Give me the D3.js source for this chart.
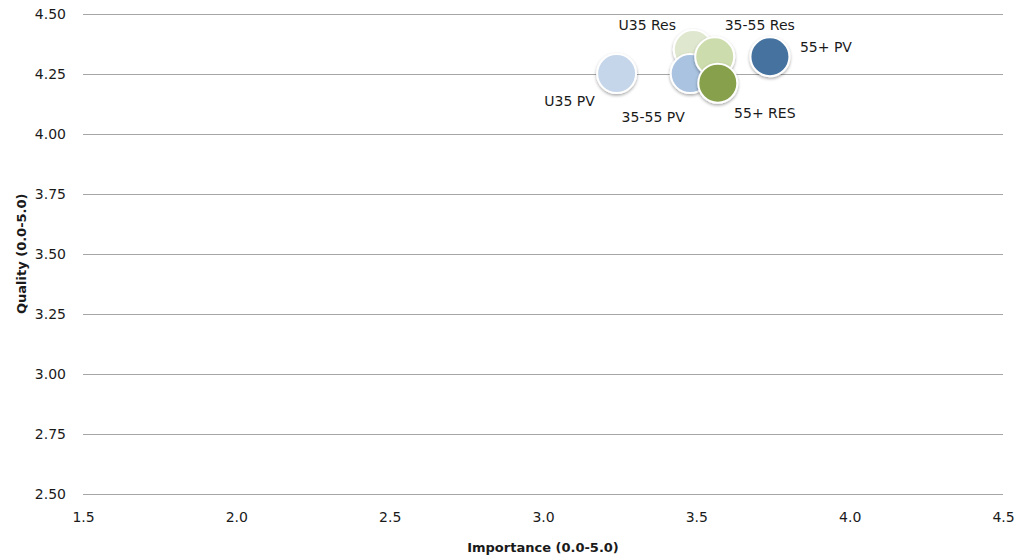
<!DOCTYPE html>
<html>
<head>
<meta charset="utf-8">
<script src="https://cdn.jsdelivr.net/npm/d3@7"></script>
<style>
  html, body { margin: 0; padding: 0; background: #fff; }
  svg { display: block; }
  text { font-family: "DejaVu Sans", sans-serif; fill: #1a1a1a; }
</style>
</head>
<body>
<svg id="chart" width="1019" height="560"></svg>
<script>
// ---- data ----
const labels     = ["U35 PV", "U35 Res", "35-55 PV", "35-55 Res", "55+ PV", "55+ RES"];
const importance = [3.24, 3.49, 3.48, 3.56, 3.74, 3.57];
const quality    = [4.25, 4.35, 4.25, 4.32, 4.32, 4.21];
const colors     = ["#c6d6ea", "#dfe8cf", "#a9c3e0", "#cddcac", "#44729f", "#87a04c"];
const xTicks = [1.5, 2.0, 2.5, 3.0, 3.5, 4.0, 4.5];
const yTicks = [2.50, 2.75, 3.00, 3.25, 3.50, 3.75, 4.00, 4.25, 4.50];
// label offsets (dx, dy) relative to bubble centre
const labelPos = [
  {dx: -47, dy: 28},
  {dx: -46, dy: -24},
  {dx: -37, dy: 44},
  {dx: 45, dy: -32},
  {dx: 56, dy: -10},
  {dx: 47, dy: 30}
];

const svg = d3.select("#chart");
const x = d3.scaleLinear().domain([1.5, 4.5]).range([83, 1003]);
const y = d3.scaleLinear().domain([2.5, 4.5]).range([494, 13.5]);

// shadow filter
const defs = svg.append("defs");
const f = defs.append("filter").attr("id", "shadow")
  .attr("x", "-50%").attr("y", "-50%").attr("width", "200%").attr("height", "200%");
f.append("feDropShadow").attr("dx", 0).attr("dy", 1.5).attr("stdDeviation", 1.6)
  .attr("flood-color", "#000").attr("flood-opacity", 0.35);

// gridlines
svg.append("g").selectAll("line").data(yTicks).join("line")
  .attr("x1", x(1.5)).attr("x2", x(4.5))
  .attr("y1", d => Math.round(y(d)) + 0.5).attr("y2", d => Math.round(y(d)) + 0.5)
  .attr("stroke", "#a6a6a6").attr("stroke-width", 1.2);

// y axis labels
const yAxis = d3.axisLeft(y).tickValues(yTicks).tickFormat(d3.format(".2f")).tickSize(0).tickPadding(17);
const gy = svg.append("g").attr("transform", `translate(${x(1.5)},0)`).call(yAxis);
gy.select(".domain").remove();
gy.selectAll("text").style("font-size", "14px").attr("dy", "0.35em").attr("fill", "#1a1a1a");

// x axis labels
const xAxis = d3.axisBottom(x).tickValues(xTicks).tickFormat(d3.format(".1f")).tickSize(0).tickPadding(18);
const gx = svg.append("g").attr("transform", `translate(0,${y(2.5)})`).call(xAxis);
gx.select(".domain").remove();
gx.selectAll("text").style("font-size", "14px").attr("fill", "#1a1a1a");

// axis titles
svg.append("text").attr("x", 543).attr("y", 552).attr("text-anchor", "middle")
  .style("font-size", "13px").style("font-weight", "bold").text("Importance (0.0-5.0)");
svg.append("text").attr("transform", `translate(26,${(y(2.5)+y(4.5))/2}) rotate(-90)`)
  .attr("text-anchor", "middle")
  .style("font-size", "13px").style("font-weight", "bold").text("Quality (0.0-5.0)");

// bubbles
const idx = d3.range(labels.length);
svg.append("g").selectAll("circle").data(idx).join("circle")
  .attr("cx", i => x(importance[i])).attr("cy", i => y(quality[i]))
  .attr("r", 19.5)
  .attr("fill", i => colors[i])
  .attr("stroke", "#fff").attr("stroke-width", 2)
  .attr("filter", "url(#shadow)");

// labels
svg.append("g").selectAll("text").data(idx).join("text")
  .attr("x", i => x(importance[i]) + labelPos[i].dx)
  .attr("y", i => y(quality[i]) + labelPos[i].dy)
  .attr("text-anchor", "middle")
  .attr("dy", "0.35em")
  .style("font-size", "14px")
  .text(i => labels[i]);
</script>
</body>
</html>
